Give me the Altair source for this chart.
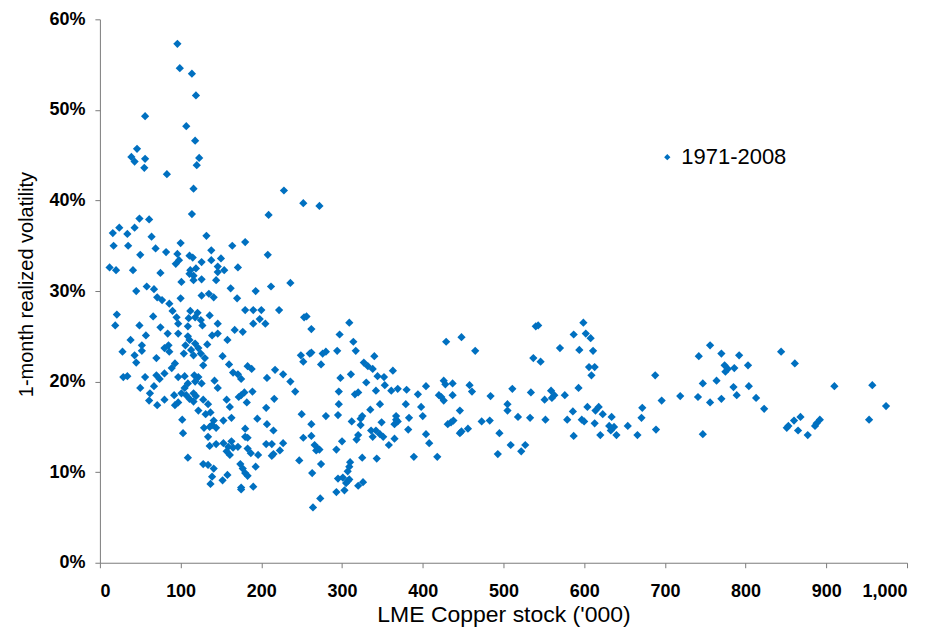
import altair as alt
import pandas as pd

# LME copper stock ('000 tonnes) and 1-month realized volatility (%)
stock_a = [96, 99, 114, 119, 56, 107, 118, 46, 39, 43, 56, 55, 123, 120, 83, 116, 228]
vol_a = [57.3, 54.6, 54.0, 51.6, 49.3, 48.2, 46.6, 45.7, 44.8, 44.3, 44.6, 43.6, 44.7, 43.9, 42.9, 41.3, 41.1]

stock_b = [252, 114, 209, 49, 61, 24, 43, 16, 34, 64, 132, 17, 35, 180, 164, 100, 69, 82, 138, 50,
           96, 111, 115, 150, 98, 126, 138, 208, 94, 146, 171, 12, 20, 41, 112, 119, 154, 75, 111, 146,
           116, 126, 116, 144, 101, 236, 212, 58, 45, 67, 162, 193, 71, 77, 100, 126, 135, 141, 170, 86,
           21, 66, 90, 112, 121, 136, 180, 190, 200, 222, 95, 110, 118, 125, 198, 19, 49, 75, 97, 127,
           146, 190, 205, 109, 167, 177, 57, 84, 97, 139, 146, 109, 38, 158, 52, 85, 133, 28, 52, 80,
           86, 43, 70, 111, 118, 106, 122, 113, 104, 125, 116, 130, 152, 249, 253]
vol_b = [39.7, 38.5, 38.4, 38.0, 37.9, 37.0, 37.0, 36.4, 36.3, 36.0, 36.1, 35.0, 35.0, 35.4, 35.0, 35.3, 34.7, 34.3, 34.5, 34.0,
         34.1, 33.9, 33.7, 33.6, 33.4, 33.2, 33.4, 34.0, 33.0, 32.7, 32.6, 32.6, 32.3, 32.3, 32.3, 32.5, 32.3, 32.0, 31.9, 32.1,
         31.7, 31.3, 31.2, 31.2, 31.0, 30.9, 30.5, 30.5, 30.0, 30.2, 30.3, 30.0, 29.3, 29.0, 29.2, 29.5, 29.7, 29.3, 29.2, 28.6,
         27.4, 27.2, 27.8, 27.8, 27.6, 27.3, 27.9, 27.9, 27.9, 27.9, 27.1, 27.0, 27.1, 26.8, 26.9, 26.2, 26.2, 26.0, 26.4, 26.2,
         26.4, 26.4, 26.4, 26.1, 25.7, 25.5, 25.1, 25.3, 25.3, 25.1, 25.3, 25.0, 24.6, 24.6, 24.0, 24.0, 24.1, 23.3, 23.4, 23.7,
         23.3, 22.9, 22.6, 24.6, 24.2, 24.0, 23.7, 23.5, 23.1, 23.1, 22.9, 22.6, 22.8, 22.9, 27.1]

stock_c = [128, 45, 93, 89, 160, 183, 188, 165, 171, 175, 217, 227, 207, 252, 29, 34, 56, 70, 74, 80,
           97, 105, 117, 122, 118, 142, 109, 105, 126, 67, 50, 146, 236, 242, 189, 62, 92, 101, 107, 116,
           119, 111, 116, 175, 179, 172, 61, 80, 71, 93, 97, 128, 134, 157, 161, 182, 216, 206, 250, 122,
           131, 137, 102, 141, 153, 163, 195, 207, 129, 136, 144, 139, 180, 215, 103, 134, 183, 180, 252, 136,
           144, 153, 163, 159, 165, 171, 157, 161, 206, 213, 227, 183, 187, 196, 223, 213, 215, 109, 247, 128,
           134, 141, 174, 177, 180, 183, 193, 158, 139, 152, 137, 175, 175, 190]
vol_c = [21.8, 22.1, 22.0, 21.5, 21.9, 21.7, 21.4, 21.0, 20.8, 20.3, 21.3, 20.8, 20.4, 22.2, 20.5, 20.6, 20.5, 20.7, 20.3, 20.9,
         20.5, 20.6, 20.7, 20.5, 20.0, 20.1, 19.8, 19.3, 19.8, 19.5, 19.3, 19.3, 20.0, 18.9, 18.9, 18.7, 18.5, 18.7, 18.5, 18.7,
         18.4, 18.1, 17.8, 18.5, 18.8, 18.3, 17.9, 18.0, 17.4, 17.4, 17.7, 18.0, 17.5, 18.0, 17.2, 17.7, 18.1, 17.1, 16.4, 16.8,
         16.4, 16.6, 15.8, 15.7, 15.7, 16.0, 15.9, 15.3, 14.9, 15.0, 14.9, 15.2, 14.8, 14.6, 14.3, 13.9, 13.8, 13.9, 13.8, 12.9,
         13.1, 13.2, 13.4, 12.8, 12.7, 12.8, 12.3, 11.9, 13.1, 13.1, 13.2, 12.6, 12.1, 11.9, 12.4, 11.8, 12.0, 11.6, 11.3, 10.9,
         10.8, 10.4, 10.9, 10.4, 9.9, 9.6, 10.6, 9.7, 9.5, 9.1, 8.7, 8.3, 8.1, 8.4]

stock_d = [272, 256, 262, 309, 297, 314, 260, 262, 276, 280, 294, 317, 340, 429, 448, 465,
           274, 327, 332, 338, 363, 311, 298, 344, 352, 330, 353, 426, 428, 437, 458, 461, 404, 296, 316, 320,
           342, 361, 369, 380, 394, 420, 423, 426, 437, 484, 296, 347, 379, 398, 280, 295, 335, 446, 367, 383,
           400, 312, 323, 325, 323, 349, 365, 369, 367, 262, 431, 435, 438, 456, 473, 483, 382, 336, 342, 347,
           351, 338, 320, 318, 365, 358, 404, 408, 446, 448, 495, 262, 300, 266, 270, 268, 272, 293, 325, 343,
           389, 418, 493, 274, 310, 309, 263, 307, 295, 301, 307, 309, 305, 326, 320, 293, 303, 273, 264]
vol_d = [39.4, 27.2, 25.8, 26.5, 25.2, 24.4, 23.1, 23.2, 23.1, 23.3, 23.4, 23.4, 22.8, 24.4, 24.9, 23.4,
         21.9, 22.1, 21.7, 21.4, 21.2, 20.8, 20.4, 20.6, 20.5, 19.9, 19.6, 20.1, 19.7, 19.8, 19.6, 18.9, 19.5, 18.9, 18.6, 18.8,
         19.0, 19.0, 19.2, 19.1, 18.6, 18.5, 18.3, 17.9, 18.5, 18.4, 17.5, 17.5, 17.5, 17.2, 16.2, 16.3, 16.9, 16.8, 16.2, 16.0,
         16.2, 15.6, 15.9, 16.2, 15.2, 15.5, 15.3, 15.6, 15.8, 15.3, 15.3, 15.5, 15.7, 14.8, 15.6, 15.7, 14.7, 14.6, 14.6, 14.2,
         13.9, 13.9, 14.1, 13.6, 13.7, 13.0, 14.2, 13.2, 14.3, 14.5, 14.3, 14.0, 13.4, 13.0, 12.6, 12.4, 12.5, 12.5, 11.6, 11.5,
         11.7, 11.7, 12.0, 10.9, 11.1, 10.6, 9.9, 10.1, 9.3, 9.4, 9.0, 9.2, 8.8, 8.9, 8.5, 7.8, 8.0, 7.1, 6.1]

stock_e = [540, 543, 599, 587, 602, 608, 570, 594, 611, 537, 546, 606, 613, 609, 688, 742, 511, 534, 559, 563,
           560, 551, 576, 593, 696, 719, 741, 672, 671, 505, 505, 518, 533, 552, 579, 586, 604, 614, 618, 623,
           634, 597, 600, 613, 631, 637, 633, 640, 654, 666, 689, 587, 620, 509, 527, 522]
vol_e = [26.1, 26.2, 26.5, 25.2, 25.3, 24.8, 23.7, 23.5, 23.4, 22.6, 22.2, 21.6, 21.6, 20.7, 20.7, 22.8, 19.2, 18.8, 19.0, 18.5,
         18.2, 18.0, 18.5, 19.3, 17.9, 18.4, 18.3, 17.1, 16.0, 17.5, 16.8, 16.1, 16.0, 15.8, 15.8, 16.7, 17.2, 16.8, 17.2, 16.4,
         16.1, 15.8, 15.6, 15.4, 15.1, 15.0, 14.6, 14.1, 15.1, 14.1, 14.7, 14.0, 14.1, 13.0, 13.0, 12.3]

stock_f = [756, 770, 792, 844, 861, 774, 778, 775, 786, 803, 747, 764, 785, 804, 910, 957, 756, 770, 789, 813,
           823, 974, 953, 868, 860, 853, 851, 892, 888, 886, 865, 877, 747]
vol_f = [24.0, 23.1, 22.9, 23.3, 22.0, 21.8, 21.4, 21.1, 21.5, 21.8, 19.8, 20.1, 19.4, 19.5, 19.5, 19.6, 17.7, 18.1, 18.5, 18.2,
         17.0, 17.3, 15.8, 16.1, 15.7, 15.1, 14.9, 15.8, 15.4, 15.1, 14.6, 14.1, 14.2]

series_name = "1971-2008"
x_ticks = list(range(0, 1001, 100))
y_ticks = [0, 0.1, 0.2, 0.3, 0.4, 0.5, 0.6]

stock = stock_a + stock_b + stock_c + stock_d + stock_e + stock_f
vol = vol_a + vol_b + vol_c + vol_d + vol_e + vol_f
df = pd.DataFrame({
    "stock": stock,
    "vol": [v / 100 for v in vol],
    "series": [series_name] * len(stock),
})

FONT = "Liberation Sans"
AXIS_GRAY = "#7a7a7a"

chart = alt.Chart(df).mark_point(
    shape="diamond", filled=True, opacity=1, size=68
).encode(
    x=alt.X("stock:Q",
            scale=alt.Scale(domain=[0, 1000], nice=False, zero=True),
            axis=alt.Axis(values=x_ticks, format=",.0f", title="LME Copper stock ('000)",
                          grid=False, labelFont=FONT, labelFontWeight="bold", labelFontSize=18,
                          labelColor="black", labelPadding=15, domainColor=AXIS_GRAY,
                          tickColor=AXIS_GRAY, tickSize=5, titleFont=FONT, titleFontSize=23,
                          titleFontWeight="normal", titleColor="black", titlePadding=3)),
    y=alt.Y("vol:Q",
            scale=alt.Scale(domain=[0, 0.6], nice=False),
            axis=alt.Axis(values=y_ticks, format=".0%", title="1-month realized volatility",
                          grid=False, labelFont=FONT, labelFontWeight="bold", labelFontSize=18,
                          labelColor="black", labelPadding=10, domainColor=AXIS_GRAY,
                          tickColor=AXIS_GRAY, tickSize=5, titleFont=FONT, titleFontSize=20,
                          titleFontWeight="normal", titleColor="black", titlePadding=12,
                          titleY=265)),
    color=alt.Color("series:N",
                    scale=alt.Scale(domain=[series_name], range=["#0070C0"]),
                    legend=alt.Legend(title=None, orient="none", legendX=557, legendY=127,
                                      symbolType="diamond", symbolSize=40, symbolOpacity=1,
                                      labelFont=FONT, labelFontSize=22, labelColor="black",
                                      labelOffset=3, padding=0)),
).properties(
    width=808,
    height=544,
    autosize=alt.AutoSizeParams(type="none"),
    padding={"left": 92, "top": 11, "right": 20, "bottom": 68},
).configure_view(stroke=None)

chart.save("out.html", embed_options={"renderer": "svg", "actions": False})
